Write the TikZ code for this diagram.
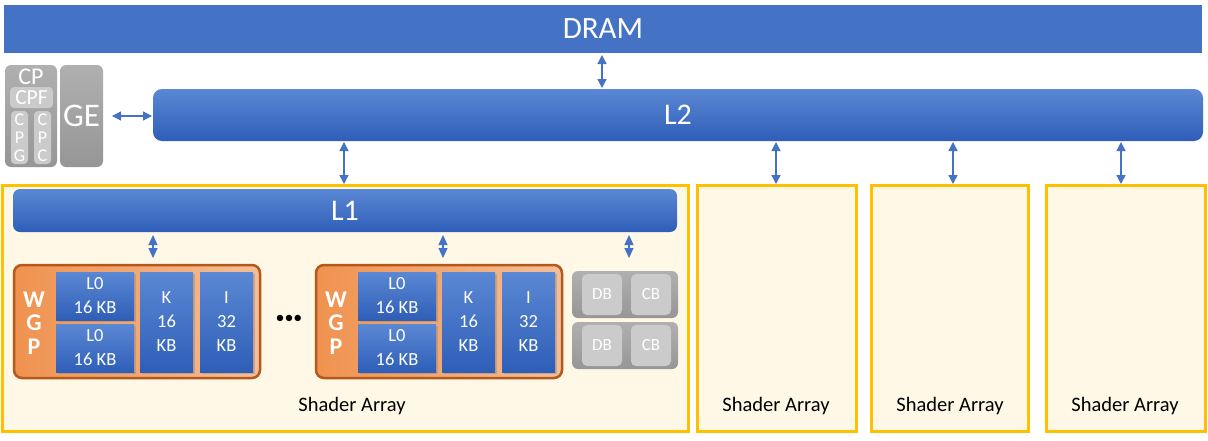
\documentclass[tikz,border=0pt]{standalone}
\usepackage{fontspec}
\setmainfont{Carlito}
\usetikzlibrary{arrows.meta,shadows}
\definecolor{btop}{HTML}{5B88D4}
\definecolor{bbot}{HTML}{2E5EB8}
\definecolor{dramc}{HTML}{4472C4}
\definecolor{arrc}{HTML}{4472C4}
\definecolor{saedge}{HTML}{FFC000}
\definecolor{safill}{HTML}{FFF8E6}
\definecolor{gtop}{HTML}{B0B0B0}
\definecolor{gbot}{HTML}{969696}
\definecolor{glight}{HTML}{CBCBCB}
\definecolor{oleft}{HTML}{F0924F}
\definecolor{oright}{HTML}{F3BE98}
\definecolor{oedge}{HTML}{B4581C}
\tikzset{
  box/.style={anchor=north west, inner sep=0pt, outer sep=0pt},
  dramst/.style={box, fill=dramc, text=white, font=\fontsize{31}{31}\selectfont},
  bluebar/.style={box, rounded corners=7pt, top color=btop, bottom color=bbot, text=white, font=\fontsize{30}{30}\selectfont},
  bluecell/.style={box, top color=btop, bottom color=bbot, text=white, align=center,
     font=\fontsize{18.5}{24}\selectfont,
     drop shadow={opacity=0.35, shadow xshift=1.5pt, shadow yshift=-1.5pt}},
  sabox/.style={box, draw=saedge, line width=3pt, fill=safill},
  salabel/.style={inner sep=0pt, font=\fontsize{20.5}{20.5}\selectfont, text=black},
  graybox/.style={box, rounded corners=6pt, top color=gtop, bottom color=gbot, text=white},
  lightcell/.style={box, rounded corners=4pt, fill=glight, text=white, align=center},
  wgpbox/.style={box, rounded corners=8pt, left color=oleft, right color=oright, draw=oedge, line width=2.5pt},
  arr/.style={draw=arrc, line width=1.3pt, {Triangle[length=9pt,width=9pt]}-{Triangle[length=9pt,width=9pt]}},
}
\begin{document}
\begin{tikzpicture}[x=1pt,y=-1pt]
\useasboundingbox[fill=white] (0,0) rectangle (1208,440);

% DRAM and L2
\node[dramst, minimum width=1198pt, minimum height=48pt] (dram) at (4,5) {DRAM};
\node[bluebar, rounded corners=9pt, minimum width=1050pt, minimum height=52pt] (l2) at (153,89) {L2};

% CP and GE
\node[graybox, minimum width=52pt, minimum height=102pt] (cp) at (5,65) {};
\node[inner sep=0pt, text=white, font=\fontsize{24}{24}\selectfont] (cplabel) at (31,77) {CP};
\node[lightcell, minimum width=43pt, minimum height=21pt, font=\fontsize{21.5}{21.5}\selectfont] (cpf) at (10,87) {CPF};
\node[lightcell, minimum width=17pt, minimum height=53pt, font=\fontsize{18}{18}\selectfont] (cpg) at (11,111) {C\\P\\G};
\node[lightcell, minimum width=17pt, minimum height=53pt, font=\fontsize{18}{18}\selectfont] (cpc) at (34,111) {C\\P\\C};
\node[graybox, minimum width=43pt, minimum height=102pt, font=\fontsize{33}{33}\selectfont] (ge) at (60,65) {GE};

% Shader arrays
\node[sabox, minimum width=686pt, minimum height=246pt] (sa1) at (2,185) {};
\node[sabox, minimum width=159pt, minimum height=246pt] (sa2) at (697,185) {};
\node[sabox, minimum width=157pt, minimum height=246pt] (sa3) at (871,185) {};
\node[sabox, minimum width=159pt, minimum height=246pt] (sa4) at (1046,185) {};
\node[salabel] (sa1l) at (352,406) {Shader Array};
\node[salabel] (sa2l) at (776,406) {Shader Array};
\node[salabel] (sa3l) at (950,406) {Shader Array};
\node[salabel] (sa4l) at (1125,406) {Shader Array};

% L1
\node[bluebar, rounded corners=7pt, minimum width=664pt, minimum height=43pt] (l1) at (13,189) {L1};

% WGP 1
\node[wgpbox, minimum width=246pt, minimum height=113pt] (wgp1) at (14,265) {};
\node[inner sep=0pt, align=center, text=white, font=\bfseries\fontsize{24}{23.5}\selectfont] (wgp1t) at (34,323) {W\\G\\P};
\node[bluecell, minimum width=78pt, minimum height=48pt] (l0a) at (56,272) {L0\\16 KB};
\node[bluecell, minimum width=78pt, minimum height=48pt] (l0b) at (56,324) {L0\\16 KB};
\node[bluecell, minimum width=53pt, minimum height=100pt] (k1) at (140,272) {K\\16\\KB};
\node[bluecell, minimum width=53pt, minimum height=100pt] (i1) at (200,272) {I\\32\\KB};

\node[inner sep=0pt, font=\fontsize{18}{18}\selectfont] (dots) at (289,319) {•••};

% WGP 2
\node[wgpbox, minimum width=246pt, minimum height=113pt] (wgp2) at (316,265) {};
\node[inner sep=0pt, align=center, text=white, font=\bfseries\fontsize{24}{23.5}\selectfont] (wgp2t) at (336,323) {W\\G\\P};
\node[bluecell, minimum width=78pt, minimum height=48pt] (l0c) at (358,272) {L0\\16 KB};
\node[bluecell, minimum width=78pt, minimum height=48pt] (l0d) at (358,324) {L0\\16 KB};
\node[bluecell, minimum width=53pt, minimum height=100pt] (k2) at (442,272) {K\\16\\KB};
\node[bluecell, minimum width=53pt, minimum height=100pt] (i2) at (502,272) {I\\32\\KB};

% DB / CB
\node[graybox, minimum width=106pt, minimum height=47pt] (rb1) at (572,271) {};
\node[graybox, minimum width=106pt, minimum height=47pt] (rb2) at (572,322) {};
\node[lightcell, rounded corners=5pt, minimum width=40pt, minimum height=41pt, font=\fontsize{17}{17}\selectfont] (db1) at (582,274) {DB};
\node[lightcell, rounded corners=5pt, minimum width=40pt, minimum height=41pt, font=\fontsize{17}{17}\selectfont] (cb1) at (631,274) {CB};
\node[lightcell, rounded corners=5pt, minimum width=40pt, minimum height=41pt, font=\fontsize{17}{17}\selectfont] (db2) at (582,325) {DB};
\node[lightcell, rounded corners=5pt, minimum width=40pt, minimum height=41pt, font=\fontsize{17}{17}\selectfont] (cb2) at (631,325) {CB};

% connectors
\coordinate (xd) at (602,0);
\draw[arr, shorten <=2pt, shorten >=1pt] (xd |- dram.south) -- (xd |- l2.north);
\draw[arr, shorten <=9pt, shorten >=1pt] (ge.east) -- (ge.east -| l2.west);
\coordinate (x1) at (344,0);
\coordinate (x2) at (776,0);
\coordinate (x3) at (953,0);
\coordinate (x4) at (1121,0);
\draw[arr, shorten <=1pt, shorten >=1pt] (x1 |- l2.south) -- (x1 |- sa1.north);
\draw[arr, shorten <=1pt, shorten >=1pt] (x2 |- l2.south) -- (x2 |- sa2.north);
\draw[arr, shorten <=1pt, shorten >=1pt] (x3 |- l2.south) -- (x3 |- sa3.north);
\draw[arr, shorten <=1pt, shorten >=1pt] (x4 |- l2.south) -- (x4 |- sa4.north);
\coordinate (y1) at (153,0);
\coordinate (y2) at (443,0);
\coordinate (y3) at (629,0);
\tikzset{sarr/.style={draw=arrc, line width=1.2pt, {Triangle[length=10pt,width=9pt]}-{Triangle[length=10pt,width=9pt]}, shorten <=3pt, shorten >=7pt}}
\draw[sarr] (y1 |- l1.south) -- (y1 |- wgp1.north);
\draw[sarr] (y2 |- l1.south) -- (y2 |- wgp2.north);
\draw[sarr] (y3 |- l1.south) -- (y3 |- wgp2.north);
\end{tikzpicture}
\end{document}
